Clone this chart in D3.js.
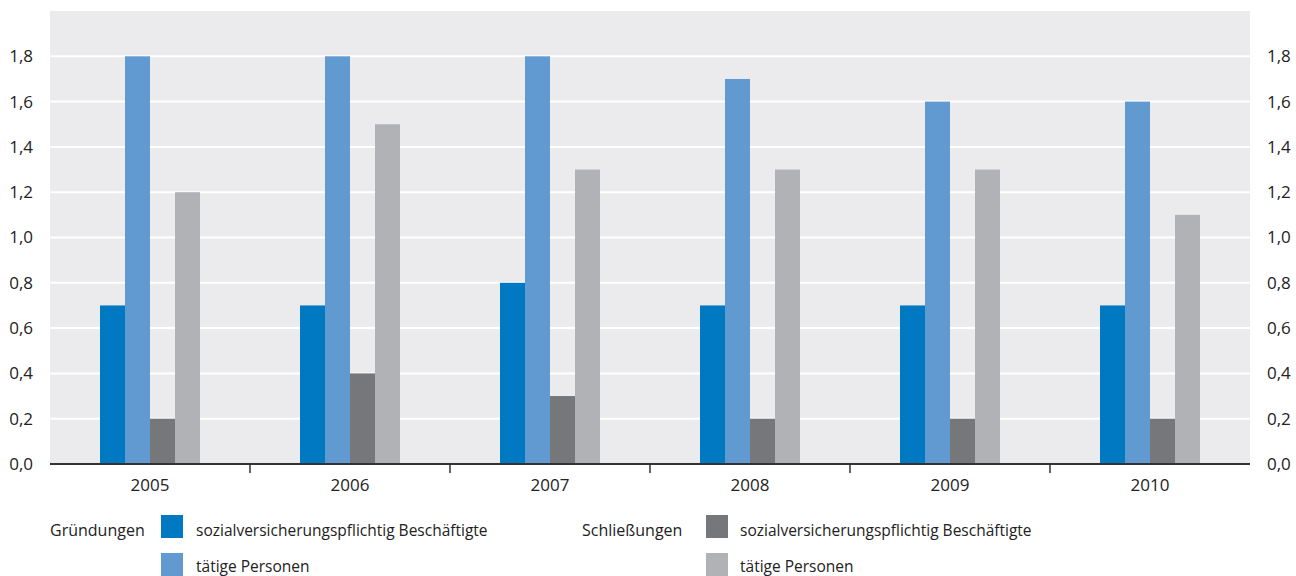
<!DOCTYPE html>
<html>
<head>
<meta charset="utf-8">
<script src="https://cdn.jsdelivr.net/npm/d3@7"></script>
<style>
  body { margin: 0; background: #fff; }
  svg { display: block; }
  text { font-family: "Open Sans", "Noto Sans", sans-serif; fill: #222; }
</style>
</head>
<body>
<svg id="chart" width="1296" height="576"></svg>
<script>
// Years on the x axis
const years = ["2005", "2006", "2007", "2008", "2009", "2010"];

// Series (million)
const gruendungenSvB = [0.7, 0.7, 0.8, 0.7, 0.7, 0.7];
const gruendungenTaetige = [1.8, 1.8, 1.8, 1.7, 1.6, 1.6];
const schliessungenSvB = [0.2, 0.4, 0.3, 0.2, 0.2, 0.2];
const schliessungenTaetige = [1.2, 1.5, 1.3, 1.3, 1.3, 1.1];

const seriesNames = ["gSvB", "gTP", "sSvB", "sTP"];
const seriesColors = ["#0079c2", "#6199d1", "#76777b", "#b1b2b5"];
const seriesData = [gruendungenSvB, gruendungenTaetige, schliessungenSvB, schliessungenTaetige];

const yTicks = [0, 0.2, 0.4, 0.6, 0.8, 1.0, 1.2, 1.4, 1.6, 1.8];

const svg = d3.select("#chart");
const plot = { left: 50, right: 1250, top: 11, bottom: 464 };
const font = "'Open Sans', 'Noto Sans', sans-serif";

const x = d3.scaleBand().domain(years).range([plot.left, plot.right])
  .paddingInner(0.5).paddingOuter(0.25);
const xInner = d3.scaleBand().domain(seriesNames).range([0, x.bandwidth()]);
const y = d3.scaleLinear().domain([0, 2.0]).range([plot.bottom, plot.top]);

const fmt = v => d3.format(".1f")(v).replace(".", ",");

// plot background
svg.append("rect")
  .attr("x", plot.left).attr("y", plot.top)
  .attr("width", plot.right - plot.left).attr("height", plot.bottom - plot.top)
  .attr("fill", "#ebebed");

// gridlines
svg.append("g").selectAll("line")
  .data(yTicks.filter(d => d > 0))
  .join("line")
  .attr("x1", plot.left).attr("x2", plot.right)
  .attr("y1", d => y(d)).attr("y2", d => y(d))
  .attr("stroke", "#fff").attr("stroke-width", 2);

// bars
const groups = svg.append("g").selectAll("g")
  .data(years)
  .join("g")
  .attr("transform", d => `translate(${x(d)},0)`);

groups.selectAll("rect")
  .data((d, i) => seriesNames.map((s, k) => ({ s, v: seriesData[k][i], c: seriesColors[k] })))
  .join("rect")
  .attr("x", d => xInner(d.s))
  .attr("width", xInner.bandwidth())
  .attr("y", d => y(d.v))
  .attr("height", d => y(0) - y(d.v))
  .attr("fill", d => d.c);

// left and right value axes
const yLeft = svg.append("g")
  .attr("transform", `translate(${plot.left},0)`)
  .call(d3.axisLeft(y).tickValues(yTicks).tickFormat(fmt).tickSize(0).tickPadding(17));
const yRight = svg.append("g")
  .attr("transform", `translate(${plot.right},0)`)
  .call(d3.axisRight(y).tickValues(yTicks).tickFormat(fmt).tickSize(0).tickPadding(17));
[yLeft, yRight].forEach(g => {
  g.select(".domain").remove();
  g.selectAll("text").attr("font-size", 17).attr("fill", "#222")
    .attr("font-family", font);
});

// x axis
const xAxis = svg.append("g")
  .attr("transform", `translate(0,${plot.bottom})`)
  .call(d3.axisBottom(x).tickSize(0).tickPadding(15));
xAxis.select(".domain").remove();
xAxis.selectAll("text").attr("font-size", 17).attr("fill", "#222")
  .attr("font-family", font);

// category separators
const step = x.step();
svg.append("g").selectAll("line")
  .data(years.slice(1))
  .join("line")
  .attr("x1", d => x(d) - step * x.paddingInner() / 2)
  .attr("x2", d => x(d) - step * x.paddingInner() / 2)
  .attr("y1", plot.bottom).attr("y2", plot.bottom + 9)
  .attr("stroke", "#333").attr("stroke-width", 1.5);

svg.append("line")
  .attr("x1", plot.left).attr("x2", plot.right)
  .attr("y1", plot.bottom).attr("y2", plot.bottom)
  .attr("stroke", "#333").attr("stroke-width", 2);

// legend
const legendGroups = [
  { title: "Gründungen", x: 50, sx: 161, tx: 196, items: [
    { label: "sozialversicherungspflichtig Beschäftigte", color: seriesColors[0] },
    { label: "tätige Personen", color: seriesColors[1] }] },
  { title: "Schließungen", x: 582, sx: 706, tx: 740, items: [
    { label: "sozialversicherungspflichtig Beschäftigte", color: seriesColors[2] },
    { label: "tätige Personen", color: seriesColors[3] }] }
];
const legend = svg.append("g");
legendGroups.forEach(gr => {
  legend.append("text").attr("x", gr.x).attr("y", 536)
    .attr("font-size", 16).text(gr.title);
  gr.items.forEach((it, i) => {
    legend.append("rect").attr("x", gr.sx).attr("y", 515 + i * 38)
      .attr("width", 22).attr("height", 23).attr("fill", it.color);
    legend.append("text").attr("x", gr.tx).attr("y", 536 + i * 36)
      .attr("font-size", 15.5).text(it.label);
  });
});
</script>
</body>
</html>
